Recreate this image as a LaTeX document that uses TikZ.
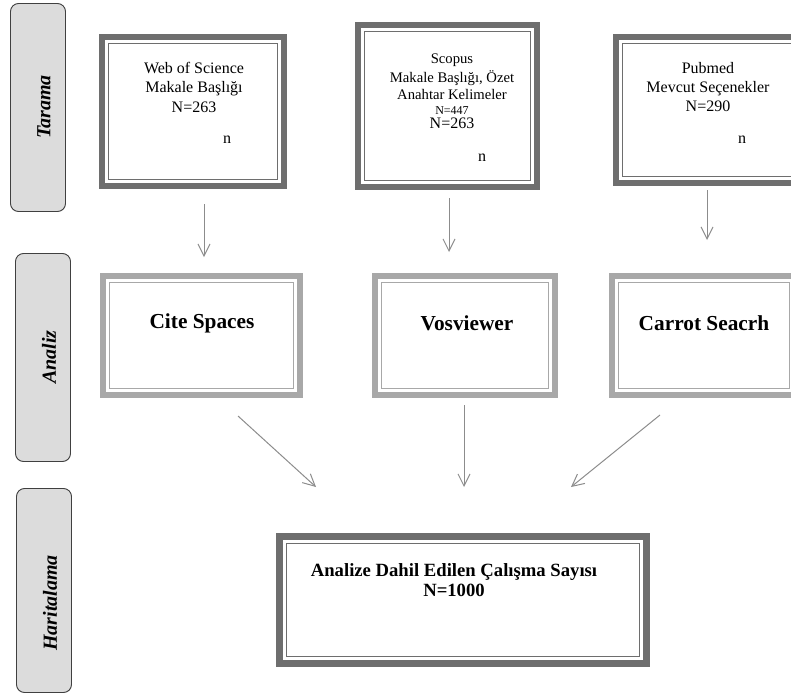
\documentclass[tikz,border=0pt]{standalone}
\usepackage{fontspec}
\setmainfont{Liberation Serif}
\usetikzlibrary{arrows.meta}
\definecolor{koyugri}{RGB}{110,110,110}
\definecolor{acikgri}{RGB}{168,168,168}
\definecolor{cubukgri}{RGB}{220,220,220}
\definecolor{okgri}{RGB}{140,140,140}
\begin{document}
\begin{tikzpicture}[x=0.75pt,y=-0.75pt,
    cubuk/.style={draw=black!75, fill=cubukgri, rounded corners=6pt, line width=0.7pt, inner sep=0pt, minimum width=41.25pt},
    cubukyazi/.style={rotate=90, inner sep=0pt, font=\fontsize{15}{18}\selectfont\bfseries\itshape},
    kutu/.style={draw=koyugri, line width=4.5pt, fill=white, inner sep=0pt},
    acikkutu/.style={kutu, draw=acikgri},
    iccizgi/.style={draw=#1, line width=1.1pt},
    yazi/.style={align=center, inner sep=0pt, font=\fontsize{12}{14.6}\selectfont},
    kalin/.style={align=center, inner sep=0pt, font=\fontsize{16}{19}\selectfont\bfseries},
    ok/.style={draw=okgri, line width=0.75pt, -{Straight Barb[length=9pt,width=9pt]}}]
    \useasboundingbox (0,0) rectangle (791,697);
    \clip (0,0) rectangle (791,697);

    % sol çubuklar
    \node[cubuk, minimum height=156pt] (taramabar) at (38,107.5) {};
    \node[cubukyazi] (taramalbl) at (44,107) {Tarama};
    \node[cubuk, minimum height=156pt] (analizbar) at (43,357.5) {};
    \node[cubukyazi] (analizlbl) at (49,357) {Analiz};
    \node[cubuk, minimum height=153pt] (haribar) at (44,590.5) {};
    \node[cubukyazi] (harilbl) at (50,603) {Haritalama};

    % tarama kutuları
    \node[kutu, minimum width=136.5pt, minimum height=111.75pt] (wos) at (193,111.5) {};
    \node[kutu, minimum width=134.25pt, minimum height=121.5pt] (scopus) at (447.5,106) {};
    \node[kutu, minimum width=138pt, minimum height=109.5pt] (pubmed) at (708,110) {};
    \foreach \k in {wos,scopus,pubmed}
        \draw[iccizgi=koyugri] ([shift={(9.5,9.5)}]\k.north west) rectangle ([shift={(-9.5,-9.5)}]\k.south east);

    \node[yazi] (wostxt) at (194,87) {Web of Science\\Makale Başlığı\\N=263};
    \node[yazi] (wosn) at (227,140) {n};
    \node[yazi, font=\fontsize{11}{12.5}\selectfont] (scopustxt) at (452,91)
        {Scopus\\[2pt]Makale Başlığı, Özet\\Anahtar Kelimeler\\[-1pt]{\fontsize{9}{10}\selectfont N=447}\\[-2pt]{\fontsize{12}{13}\selectfont N=263}};
    \node[yazi] (scopusn) at (482,158) {n};
    \node[yazi] (pubmedtxt) at (708,87) {Pubmed\\Mevcut Seçenekler\\N=290};
    \node[yazi] (pubmedn) at (742,140) {n};

    % analiz kutuları
    \node[acikkutu, minimum width=147.75pt, minimum height=89.25pt] (cite) at (201.5,335.5) {};
    \node[acikkutu, minimum width=135pt, minimum height=89.25pt] (vos) at (465,335.5) {};
    \node[acikkutu, minimum width=138pt, minimum height=89.25pt] (carrot) at (704,335.5) {};
    \foreach \k in {cite,vos,carrot}
        \draw[iccizgi=acikgri] ([shift={(9.5,9.5)}]\k.north west) rectangle ([shift={(-9.5,-9.5)}]\k.south east);

    \node[kalin] (citetxt) at (202,323) {Cite Spaces};
    \node[kalin] (vostxt) at (467,323) {Vosviewer};
    \node[kalin] (carrottxt) at (704,323) {Carrot Seacrh};

    % haritalama kutusu
    \node[kutu, line width=5.25pt, minimum width=275.25pt, minimum height=95.25pt] (hari) at (463,600) {};
    \draw[iccizgi=koyugri] ([shift={(10.5,10.5)}]hari.north west) rectangle ([shift={(-10.5,-10.5)}]hari.south east);
    \node[kalin, font=\fontsize{14}{15}\selectfont\bfseries] (haritxt) at (454,580)
        {Analize Dahil Edilen Çalışma Sayısı\\N=1000};

    % oklar
    \draw[ok] ([shift={(11,15)}]wos.south) -- ([shift={(2.5,-16)}]cite.north);
    \draw[ok] ([shift={(1.5,8)}]scopus.south) -- ([shift={(-16,-21)}]vos.north);
    \draw[ok] ([shift={(-1,4)}]pubmed.south) -- ([shift={(3,-33)}]carrot.north);
    \draw[ok] ([shift={(36.5,18)}]cite.south) -- ([shift={(-147,-46)}]hari.north);
    \draw[ok] ([shift={(-1,7)}]vos.south) -- ([shift={(1,-46)}]hari.north);
    \draw[ok] ([shift={(-44,17)}]carrot.south) -- ([shift={(108,-46)}]hari.north);
\end{tikzpicture}
\end{document}
